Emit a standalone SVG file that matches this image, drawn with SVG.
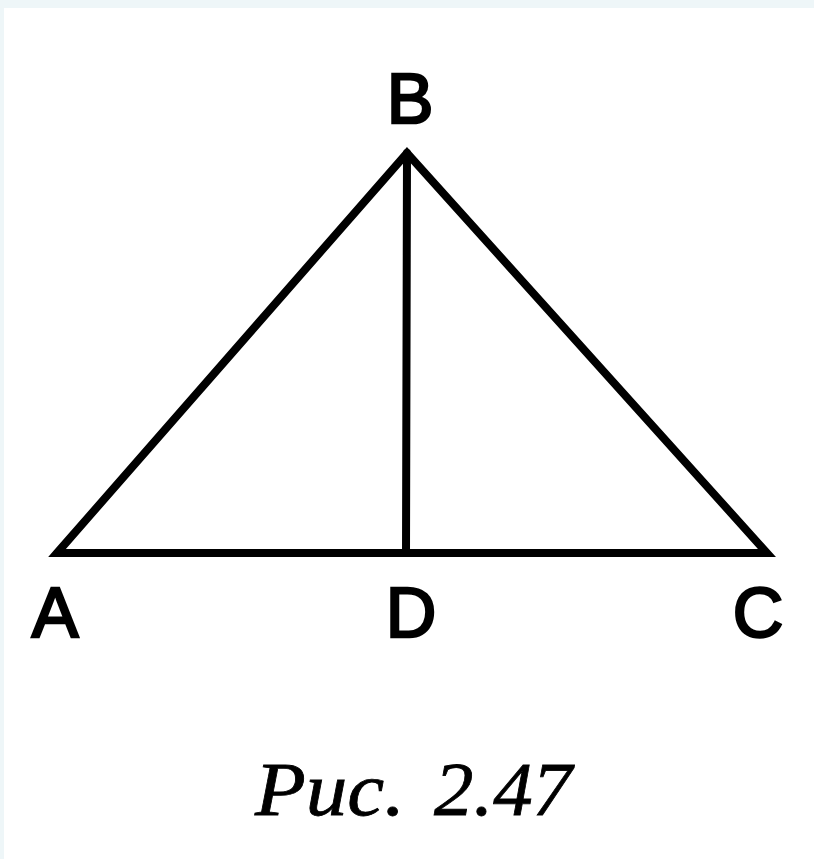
<svg xmlns="http://www.w3.org/2000/svg" width="814" height="859" viewBox="0 0 814 859">
<style>
.edge{stroke:#000;stroke-width:8;stroke-linecap:round;stroke-linejoin:miter;fill:none}
.lbl{font-family:"Liberation Sans",Arial,sans-serif;font-size:70px;fill:#000;text-anchor:middle;stroke:#000;stroke-width:2.5}
.cap{font-family:"Liberation Serif","Times New Roman",serif;font-style:italic;font-size:76px;fill:#000;stroke:#000;stroke-width:0.8}
</style>
<rect x="0" y="0" width="814" height="859" fill="#eef6f8"/>
<rect x="4" y="8" width="810" height="851" fill="#ffffff"/>
<g id="connectors">
<path class="edge" d="M57,553 L407,153 L767,553 Z"/>
<line class="edge" x1="407" y1="153" x2="406" y2="553"/>
</g>
<g id="B"><text class="lbl" x="410" y="123">B</text></g>
<g id="A"><text class="lbl" x="55" y="637">A</text></g>
<g id="D"><text class="lbl" x="411" y="637">D</text></g>
<g id="C"><text class="lbl" x="758" y="637">C</text></g>
<g id="caption"><text class="cap" y="815"><tspan x="255" textLength="150" lengthAdjust="spacingAndGlyphs">Рис.</tspan><tspan x="434" textLength="138" lengthAdjust="spacingAndGlyphs">2.47</tspan></text></g>
</svg>
